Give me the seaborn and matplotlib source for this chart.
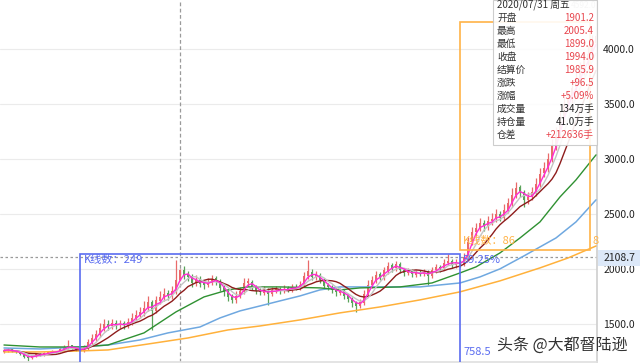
import matplotlib.pyplot as plt
import matplotlib.patches as mpatches
import numpy as np
import pandas as pd
import seaborn as sns

# candles (about one candle per 4 px)
opens = [1250, 1258, 1272, 1256, 1250, 1232, 1210, 1192, 1212, 1230,
         1222, 1235, 1243, 1255, 1250, 1272, 1288, 1308, 1285, 1272,
         1260, 1288, 1330, 1378, 1405, 1468, 1505, 1482, 1512, 1490,
         1508, 1488, 1518, 1555, 1582, 1605, 1648, 1705, 1625, 1715,
         1745, 1785, 1758, 1805, 1901.2, 1990, 1955, 1935, 1878, 1912,
         1872, 1858, 1880, 1918, 1890, 1835, 1792, 1755, 1718, 1758,
         1798, 1875, 1888, 1842, 1802, 1788, 1812, 1778, 1808, 1822,
         1803, 1828, 1812, 1842, 1832, 1858, 1935, 1980, 1928, 1948,
         1902, 1855, 1842, 1812, 1788, 1808, 1762, 1732, 1692, 1668,
         1698, 1778, 1855, 1898, 1955, 1928, 1985, 2035, 2008, 2048,
         1992, 1968, 1988, 1952, 1972, 1958, 1978, 1942, 1990, 2022,
         2008, 2058, 2078, 2038, 2068, 2052, 2108, 2245, 2335, 2378,
         2425, 2388, 2438, 2455, 2505, 2468, 2535, 2598, 2675, 2745,
         2702, 2628, 2655, 2695, 2775, 2872, 2915, 3005, 3115, 3225,
         3385, 3510, 3555, 3660, 3715, 3805, 3910, 3955, 4060]
closes = [1262, 1270, 1255, 1248, 1230, 1205, 1190, 1215, 1228, 1220,
          1238, 1245, 1252, 1248, 1275, 1290, 1305, 1282, 1270, 1262,
          1290, 1335, 1380, 1410, 1470, 1500, 1485, 1510, 1495, 1505,
          1490, 1520, 1560, 1585, 1610, 1650, 1700, 1620, 1720, 1750,
          1780, 1760, 1800, 1905, 1994, 1950, 1930, 1880, 1910, 1870,
          1860, 1885, 1915, 1895, 1830, 1790, 1750, 1720, 1760, 1800,
          1880, 1890, 1840, 1800, 1790, 1815, 1775, 1810, 1820, 1805,
          1825, 1815, 1840, 1835, 1860, 1940, 1985, 1930, 1945, 1900,
          1850, 1840, 1810, 1790, 1805, 1760, 1730, 1690, 1670, 1700,
          1780, 1860, 1900, 1950, 1930, 1990, 2030, 2010, 2050, 1990,
          1970, 1985, 1955, 1970, 1960, 1975, 1940, 1995, 2020, 2010,
          2060, 2075, 2040, 2065, 2055, 2110, 2250, 2340, 2380, 2420,
          2390, 2440, 2460, 2500, 2470, 2540, 2600, 2680, 2740, 2700,
          2630, 2660, 2700, 2780, 2870, 2920, 3000, 3120, 3220, 3380,
          3500, 3560, 3650, 3720, 3800, 3900, 3960, 4050, 4120]
highs = [1275, 1285, 1280, 1265, 1255, 1240, 1218, 1225, 1240, 1238,
         1248, 1258, 1265, 1262, 1290, 1310, 1358, 1315, 1292, 1280,
         1310, 1365, 1410, 1450, 1510, 1550, 1535, 1545, 1540, 1535,
         1530, 1560, 1600, 1630, 1660, 1710, 1760, 1725, 1760, 1800,
         1830, 1815, 1850, 2082, 2005.4, 2030, 1985, 1960, 1950, 1935,
         1900, 1920, 1950, 1940, 1910, 1855, 1815, 1780, 1800, 1840,
         1920, 1925, 1905, 1860, 1830, 1845, 1830, 1840, 1850, 1842,
         1855, 1848, 1865, 1868, 1895, 1975, 2082, 2000, 1985, 1965,
         1920, 1875, 1860, 1830, 1830, 1820, 1780, 1750, 1715, 1730,
         1815, 1900, 1935, 1985, 1975, 2025, 2065, 2055, 2080, 2065,
         2010, 2010, 2005, 1995, 1990, 2000, 1990, 2025, 2050, 2040,
         2090, 2140, 2095, 2090, 2085, 2150, 2290, 2385, 2425, 2470,
         2450, 2485, 2510, 2550, 2530, 2590, 2650, 2735, 2790, 2770,
         2720, 2700, 2745, 2830, 2920, 2975, 3060, 3180, 3290, 3440,
         3570, 3630, 3720, 3790, 3880, 3970, 4040, 4130, 4200]
lows = [1240, 1250, 1245, 1238, 1220, 1195, 1167.1, 1185, 1205, 1210,
        1215, 1228, 1235, 1238, 1245, 1265, 1280, 1275, 1260, 1255,
        1245, 1270, 1310, 1350, 1385, 1440, 1450, 1460, 1462, 1465,
        1460, 1470, 1495, 1530, 1555, 1580, 1620, 1450, 1600, 1685,
        1715, 1720, 1730, 1780, 1899, 1910, 1895, 1840, 1850, 1840,
        1825, 1835, 1860, 1860, 1800, 1760, 1715, 1690, 1695, 1735,
        1775, 1845, 1815, 1775, 1765, 1765, 1680, 1755, 1785, 1780,
        1785, 1790, 1795, 1810, 1815, 1835, 1910, 1900, 1900, 1875,
        1825, 1810, 1785, 1760, 1765, 1730, 1700, 1655, 1609, 1645,
        1675, 1755, 1830, 1875, 1900, 1905, 1960, 1980, 1985, 1965,
        1940, 1945, 1930, 1930, 1935, 1935, 1860, 1920, 1970, 1980,
        1990, 2035, 2015, 2015, 2025, 2030, 2085, 2220, 2300, 2345,
        2350, 2360, 2405, 2430, 2435, 2445, 2510, 2570, 2645, 2660,
        2570, 2595, 2630, 2670, 2745, 2840, 2885, 2975, 3080, 3190,
        3340, 3450, 3515, 3615, 3675, 3765, 3860, 3920, 4020]

# long moving averages, read at a few candle positions
ma60_idx = [0, 9, 19, 26, 35, 43, 50, 56, 61, 69, 79, 84, 89, 99, 107, 114,
            118, 124, 129, 134, 139, 143, 148]
ma60_val = [1312, 1294, 1294, 1312, 1422, 1613, 1749, 1813, 1840, 1840, 1831,
            1813, 1831, 1840, 1876, 1967, 2022, 2149, 2285, 2431, 2658, 2813, 3040]
ma120_idx = [0, 9, 19, 26, 34, 41, 49, 54, 59, 64, 69, 74, 79, 84, 94, 104,
             114, 119, 124, 130, 138, 143, 148]
ma120_val = [1285, 1276, 1294, 1312, 1358, 1422, 1476, 1558, 1622, 1667, 1713,
             1758, 1813, 1840, 1840, 1840, 1876, 1931, 2004, 2122, 2285, 2431, 2631]
ma250_idx = [0, 9, 19, 26, 36, 46, 56, 64, 74, 84, 94, 104, 114, 124, 134, 141, 148]
ma250_val = [1249, 1249, 1258, 1267, 1321, 1376, 1449, 1485, 1540, 1604, 1658,
             1722, 1795, 1895, 2013, 2103, 2212]

yticks = [1500, 2000, 2500, 3000, 3500, 4000]
tip_labels = ['开盘', '最高', '最低', '收盘', '结算价', '涨跌', '涨幅', '成交量', '持仓量', '仓差']
tip_values = ['1901.2', '2005.4', '1899.0', '1994.0', '1985.9', '+96.5', '+5.09%',
              '134万手', '41.0万手', '+212636手']
tip_red = [True, True, True, True, True, True, True, False, False, True]

sns.set_theme(style="white")
plt.rcParams['font.family'] = ['Noto Sans CJK SC', 'DejaVu Sans']

df = pd.DataFrame({'open': opens, 'high': highs, 'low': lows, 'close': closes})
df['idx'] = np.arange(len(df))
df['ma5'] = df['close'].rolling(3, min_periods=1).mean()
df['ma10'] = df['close'].rolling(5, min_periods=1).mean()
df['ma20'] = df['close'].rolling(9, min_periods=1).mean()

W, H = 640, 364
fig = plt.figure(figsize=(W / 100, H / 100), dpi=100)
ax = fig.add_axes([0, 2 / H, 597 / W, 362 / H])

red, green = '#e96a6a', '#5aa35a'
up = df['close'] >= df['open']
cols = np.where(up, red, green)
ax.vlines(df['idx'], df['low'], df['high'], colors=cols, linewidth=0.9, zorder=2)
body = (df['close'] - df['open']).abs().clip(lower=4)
ax.bar(df['idx'], body, bottom=df[['open', 'close']].min(axis=1), width=0.65,
       color=cols, linewidth=0, zorder=2)

lw = 1.0
sns.lineplot(x=ma250_idx, y=ma250_val, ax=ax, color='#ffb13b', linewidth=1.1, zorder=3)
sns.lineplot(x=ma120_idx, y=ma120_val, ax=ax, color='#6fa8e0', linewidth=1.1, zorder=3)
sns.lineplot(x=ma60_idx, y=ma60_val, ax=ax, color='#2f9132', linewidth=lw, zorder=3)
sns.lineplot(data=df, x='idx', y='ma20', ax=ax, color='#8e1c1c', linewidth=lw, zorder=3)
sns.lineplot(data=df, x='idx', y='ma10', ax=ax, color='#c4c4c4', linewidth=lw, zorder=3)
sns.lineplot(data=df, x='idx', y='ma5', ax=ax, color='#ff2bd5', linewidth=lw, zorder=3)

# measurement boxes
blue_c, orange_c = '#5a6cf0', '#ffb347'
ax.add_patch(mpatches.Rectangle((19, 1000), 95, 2137 - 1000, fill=False,
                                edgecolor=blue_c, linewidth=1.2, zorder=4))
ax.add_patch(mpatches.Rectangle((114, 2176), 32.5, 4248 - 2176, fill=False,
                                edgecolor=orange_c, linewidth=1.2, zorder=4))
ax.text(20, 2085, 'K线数：249', color=blue_c, fontsize=8, va='center', zorder=5)
ax.text(114.8, 2085, '59.25%', color=blue_c, fontsize=8, va='center', zorder=5)
ax.text(114.8, 1248, '758.5', color=blue_c, fontsize=8, va='center', zorder=5)
ax.text(114.8, 2257, 'K线数：86', color=orange_c, fontsize=8, va='center', zorder=5)
ax.text(147.2, 2257, '8', color=orange_c, fontsize=8, va='center', zorder=5)

ax.axhline(2108.7, color='#9a9a9a', linestyle=(0, (2, 2)), linewidth=0.9, zorder=1)
ax.axvline(44, color='#9a9a9a', linestyle=(0, (3, 2)), linewidth=0.9, zorder=1)

ax.set_xlim(-1, 148.25)
ax.set_ylim(1157.5, 4448)
ax.set_xticks([])
ax.set_yticks(yticks)
ax.set_yticklabels([f'{v:.1f}' for v in yticks])
ax.yaxis.tick_right()
ax.tick_params(axis='y', length=0, pad=4.5, labelsize=7.5, labelcolor='#222222')
ax.grid(axis='y', color='#ebebeb', linewidth=0.8)
ax.set_axisbelow(True)
for s in ['left', 'top']:
    ax.spines[s].set_visible(False)
ax.spines['right'].set_color('#d0d0d0')
ax.spines['bottom'].set_color('#e0e0e0')
ax.set_xlabel('')
ax.set_ylabel('')
ax.text(141.8, 4395, '4592.0', color='#b0b0b0', fontsize=6, va='center', zorder=1)


def fx(x):
    return x / W


def fy(y):
    return 1 - y / H


# current price tag
fig.patches.append(mpatches.Rectangle((fx(598), fy(266)), fx(42), 16 / H,
                                      transform=fig.transFigure, facecolor='#dce8f8',
                                      edgecolor='none', zorder=5))
fig.text(fx(619), fy(258), '2108.7', ha='center', va='center', fontsize=7.5,
         color='#222222', zorder=6)

# tooltip
fig.patches.append(mpatches.Rectangle((fx(493), fy(145)), fx(104), 145 / H,
                                      transform=fig.transFigure, facecolor='white',
                                      alpha=0.9, edgecolor='#c8c8c8', linewidth=0.8,
                                      zorder=5))
fig.text(fx(497), fy(5), '2020/07/31 周五', fontsize=7, color='#333333', va='center', zorder=6)
for k, (lab, val, r) in enumerate(zip(tip_labels, tip_values, tip_red)):
    yy = 18 + 13 * k
    fig.text(fx(497), fy(yy), lab, fontsize=7, color='#333333', va='center', zorder=6)
    fig.text(fx(594), fy(yy), val, fontsize=7, ha='right', va='center', zorder=6,
             color='#e8464e' if r else '#222222')

fig.text(fx(497), fy(345), '头条 @大都督陆逊', fontsize=11.5, color='#333333',
         va='center', zorder=6)

fig.savefig('out.png', dpi=100)
